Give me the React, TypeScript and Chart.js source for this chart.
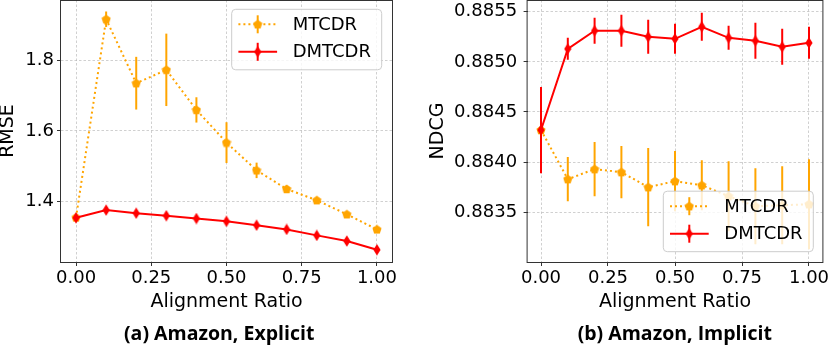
import React, { useEffect, useRef } from "react";
import { Chart, registerables } from "chart.js";

Chart.register(...registerables);

// ---------------- data ----------------
const alignmentRatios = [0, 0.1, 0.2, 0.3, 0.4, 0.5, 0.6, 0.7, 0.8, 0.9, 1.0];
const xTickValues = [0, 0.25, 0.5, 0.75, 1.0];
const seriesNames = ["MTCDR", "DMTCDR"];

const rmseMTCDR = [1.354, 1.918, 1.736, 1.774, 1.66, 1.567, 1.488, 1.435, 1.403, 1.363, 1.32];
const rmseMTCDRErr = [0.005, 0.022, 0.075, 0.103, 0.036, 0.058, 0.022, 0.006, 0.006, 0.005, 0.005];
const rmseDMTCDR = [1.353, 1.375, 1.366, 1.359, 1.351, 1.343, 1.332, 1.32, 1.303, 1.287, 1.262];
const rmseDMTCDRErr = [0.008, 0.008, 0.007, 0.007, 0.007, 0.007, 0.007, 0.007, 0.007, 0.007, 0.008];
const rmseTicks = [1.4, 1.6, 1.8];

const ndcgMTCDR = [0.88432, 0.88383, 0.88393, 0.8839, 0.88375, 0.88381, 0.88377, 0.88366, 0.88356, 0.88357, 0.88358];
const ndcgMTCDRErr = [0.0001, 0.00022, 0.00027, 0.00026, 0.00039, 0.0003, 0.00025, 0.00035, 0.00038, 0.00039, 0.00045];
const ndcgDMTCDR = [0.88432, 0.88513, 0.88531, 0.88531, 0.88525, 0.88523, 0.88535, 0.88524, 0.88521, 0.88515, 0.88519];
const ndcgDMTCDRErr = [0.00043, 0.00011, 0.00013, 0.00016, 0.00017, 0.00015, 0.00014, 0.00012, 0.00018, 0.00018, 0.00016];
const ndcgTicks = [0.8835, 0.884, 0.8845, 0.885, 0.8855];

const xAxisTitle = "Alignment Ratio";
const captions = ["(a) Amazon, Explicit", "(b) Amazon, Implicit"];

// ---------------- styling ----------------
const ORANGE = "#FFA500";
const RED = "#FF0000";
const FONT = "'DejaVu Sans', sans-serif";
const GRID = "rgba(176,176,176,0.75)";

function makePentagon(color: string) {
  const c = document.createElement("canvas");
  c.width = 10;
  c.height = 10;
  const ctx = c.getContext("2d")!;
  ctx.fillStyle = color;
  ctx.beginPath();
  for (let k = 0; k < 5; k++) {
    const a = -Math.PI / 2 + (k * 2 * Math.PI) / 5;
    const px = 5 + 4.8 * Math.cos(a);
    const py = 5.3 + 4.8 * Math.sin(a);
    if (k === 0) ctx.moveTo(px, py);
    else ctx.lineTo(px, py);
  }
  ctx.closePath();
  ctx.fill();
  return c;
}

function makeDiamond(color: string) {
  const c = document.createElement("canvas");
  c.width = 8;
  c.height = 12;
  const ctx = c.getContext("2d")!;
  ctx.fillStyle = color;
  ctx.beginPath();
  ctx.moveTo(4, 0.3);
  ctx.lineTo(7.6, 6);
  ctx.lineTo(4, 11.7);
  ctx.lineTo(0.4, 6);
  ctx.closePath();
  ctx.fill();
  return c;
}

type Panel = {
  mt: number[];
  mtErr: number[];
  dm: number[];
  dmErr: number[];
  yTicks: number[];
  yMin: number;
  yMax: number;
  yDecimals: number;
  yTitle: string;
  yTitlePad: number;
  yTickPad: number;
  yWidth: number;
  padRight: number;
  legendCorner: "top" | "bottom";
  legendRightGap: number;
  legendEdgeGap: number;
};

const errorBarPlugin = {
  id: "errorBars",
  beforeDatasetDraw(chart: any, args: any) {
    const ds = chart.data.datasets[args.index];
    const errs: number[] = ds.errors || [];
    const ctx = chart.ctx;
    const ys = chart.scales.y;
    const ca = chart.chartArea;
    ctx.save();
    ctx.beginPath();
    ctx.rect(ca.left, ca.top, ca.right - ca.left, ca.bottom - ca.top);
    ctx.clip();
    ctx.strokeStyle = ds.borderColor;
    ctx.lineWidth = 2;
    ctx.setLineDash([]);
    args.meta.data.forEach((pt: any, i: number) => {
      const v = ds.data[i].y;
      const e = errs[i] || 0;
      ctx.beginPath();
      ctx.moveTo(pt.x, ys.getPixelForValue(v + e));
      ctx.lineTo(pt.x, ys.getPixelForValue(v - e));
      ctx.stroke();
    });
    ctx.restore();
  },
};

function makeFramePlugin(panel: Panel, markers: HTMLCanvasElement[]) {
  return {
    id: "frameLegend",
    afterDatasetsDraw(chart: any) {
      const ctx = chart.ctx;
      const ca = chart.chartArea;
      ctx.save();
      ctx.strokeStyle = "#333";
      ctx.lineWidth = 1;
      ctx.setLineDash([]);
      ctx.strokeRect(ca.left - 0.5, ca.top + 0.5, ca.right - ca.left + 1, ca.bottom - ca.top);
      ctx.restore();
    },
    afterDraw(chart: any) {
      const ctx = chart.ctx;
      const ca = chart.chartArea;
      const w = 150;
      const h = 60.5;
      const x = ca.right - panel.legendRightGap - w;
      const y = panel.legendCorner === "top" ? ca.top + panel.legendEdgeGap : ca.bottom - panel.legendEdgeGap - h;
      ctx.save();
      const r = 4;
      ctx.beginPath();
      ctx.moveTo(x + r, y);
      ctx.lineTo(x + w - r, y);
      ctx.quadraticCurveTo(x + w, y, x + w, y + r);
      ctx.lineTo(x + w, y + h - r);
      ctx.quadraticCurveTo(x + w, y + h, x + w - r, y + h);
      ctx.lineTo(x + r, y + h);
      ctx.quadraticCurveTo(x, y + h, x, y + h - r);
      ctx.lineTo(x, y + r);
      ctx.quadraticCurveTo(x, y, x + r, y);
      ctx.closePath();
      ctx.fillStyle = "rgba(255,255,255,0.8)";
      ctx.fill();
      ctx.strokeStyle = "#cccccc";
      ctx.lineWidth = 1;
      ctx.stroke();

      const rows = [y + 15, y + 42.5];
      const colors = [ORANGE, RED];
      const dashes = [[2, 3], []];
      rows.forEach((ry, i) => {
        ctx.strokeStyle = colors[i];
        ctx.lineWidth = 2;
        ctx.setLineDash(dashes[i]);
        ctx.beginPath();
        ctx.moveTo(x + 6.7, ry);
        ctx.lineTo(x + 45.4, ry);
        ctx.stroke();
        ctx.setLineDash([]);
        ctx.beginPath();
        ctx.moveTo(x + 26, ry - 9);
        ctx.lineTo(x + 26, ry + 9);
        ctx.stroke();
        const m = markers[i];
        ctx.drawImage(m, x + 26 - m.width / 2, ry - m.height / 2);
        ctx.fillStyle = "#000";
        ctx.font = `18px ${FONT}`;
        ctx.textBaseline = "middle";
        ctx.textAlign = "left";
        ctx.fillText(seriesNames[i], x + 61, ry + 1);
      });
      ctx.restore();
    },
  };
}

function buildConfig(panel: Panel) {
  const pent = makePentagon(ORANGE);
  const diam = makeDiamond(RED);
  return {
    type: "line",
    data: {
      datasets: [
        {
          label: seriesNames[0],
          data: alignmentRatios.map((x, i) => ({ x, y: panel.mt[i] })),
          errors: panel.mtErr,
          borderColor: ORANGE,
          backgroundColor: ORANGE,
          borderWidth: 2,
          borderDash: [2, 3],
          pointStyle: pent,
          pointRadius: 5,
          fill: false,
          tension: 0,
          order: 1,
        },
        {
          label: seriesNames[1],
          data: alignmentRatios.map((x, i) => ({ x, y: panel.dm[i] })),
          errors: panel.dmErr,
          borderColor: RED,
          backgroundColor: RED,
          borderWidth: 2,
          pointStyle: diam,
          pointRadius: 5,
          fill: false,
          tension: 0,
          order: 0,
        },
      ],
    },
    options: {
      responsive: false,
      animation: false,
      devicePixelRatio: 1,
      layout: { autoPadding: false, padding: { left: 0, right: panel.padRight, top: 0, bottom: 41 } },
      plugins: {
        legend: { display: false },
        tooltip: { enabled: false },
        title: { display: false },
      },
      scales: {
        x: {
          type: "linear",
          min: -0.05,
          max: 1.05,
          afterBuildTicks: (ax: any) => {
            ax.ticks = xTickValues.map((v) => ({ value: v }));
          },
          afterFit: (ax: any) => {
            ax.height = 51;
            ax.paddingLeft = 0;
            ax.paddingRight = 0;
            ax.paddingTop = 0;
            ax.paddingBottom = 0;
          },
          ticks: {
            callback: (v: any) => Number(v).toFixed(2),
            font: { family: FONT, size: 18 },
            color: "#000",
            padding: 1.5,
            maxRotation: 0,
            autoSkip: false,
          },
          grid: {
            color: GRID,
            lineWidth: 0.8,
            tickLength: 4,
            tickColor: "#333",
            tickWidth: 1,
            tickBorderDash: [],
          },
          border: { display: false, dash: [2.5, 2] },
          title: {
            display: true,
            text: xAxisTitle,
            font: { family: FONT, size: 19 },
            color: "#000",
            padding: { top: 0, bottom: 0 },
          },
        },
        y: {
          type: "linear",
          min: panel.yMin,
          max: panel.yMax,
          afterBuildTicks: (ax: any) => {
            ax.ticks = panel.yTicks.map((v) => ({ value: v }));
          },
          afterFit: (ax: any) => {
            ax.width = panel.yWidth;
            ax.paddingLeft = 0;
            ax.paddingRight = 0;
            ax.paddingTop = 0;
            ax.paddingBottom = 0;
          },
          ticks: {
            callback: (v: any) => Number(v).toFixed(panel.yDecimals),
            font: { family: FONT, size: 18 },
            color: "#000",
            padding: panel.yTickPad,
            autoSkip: false,
          },
          grid: {
            color: GRID,
            lineWidth: 0.8,
            tickLength: 4,
            tickColor: "#333",
            tickWidth: 1,
            tickBorderDash: [],
          },
          border: { display: false, dash: [2.5, 2] },
          title: {
            display: true,
            text: panel.yTitle,
            font: { family: FONT, size: 19 },
            color: "#000",
            padding: { top: panel.yTitlePad, bottom: 0 },
          },
        },
      },
    },
    plugins: [errorBarPlugin, makeFramePlugin(panel, [pent, diam])],
  };
}

const panels: Panel[] = [
  {
    mt: rmseMTCDR,
    mtErr: rmseMTCDRErr,
    dm: rmseDMTCDR,
    dmErr: rmseDMTCDRErr,
    yTicks: rmseTicks,
    yMin: 1.2273,
    yMax: 1.9727,
    yDecimals: 1,
    yTitle: "RMSE",
    yTitlePad: -3,
    yTickPad: 3,
    yWidth: 61,
    padRight: 23,
    legendCorner: "top",
    legendRightGap: 10.3,
    legendEdgeGap: 9.3,
  },
  {
    mt: ndcgMTCDR,
    mtErr: ndcgMTCDRErr,
    dm: ndcgDMTCDR,
    dmErr: ndcgDMTCDRErr,
    yTicks: ndcgTicks,
    yMin: 0.883004,
    yMax: 0.885617,
    yDecimals: 4,
    yTitle: "NDCG",
    yTitlePad: 12,
    yTickPad: 6.5,
    yWidth: 112.6,
    padRight: 7.6,
    legendCorner: "bottom",
    legendRightGap: 9.1,
    legendEdgeGap: 10.3,
  },
];

function PanelChart({ panel, left, caption, captionX }: { panel: Panel; left: number; caption: string; captionX: number }) {
  const ref = useRef<HTMLCanvasElement>(null);
  useEffect(() => {
    if (!ref.current) return;
    const chart = new Chart(ref.current, buildConfig(panel) as any);
    return () => chart.destroy();
  }, [panel]);
  return (
    <div style={{ position: "absolute", left, top: 0, width: 415, height: 354 }}>
      <canvas ref={ref} width={415} height={354} style={{ position: "absolute", left: 0, top: 0, width: 415, height: 354 }} />
      <div
        style={{
          position: "absolute",
          left: captionX,
          top: 322,
          transform: "translateX(-50%)",
          whiteSpace: "nowrap",
          fontFamily: "'Open Sans', sans-serif",
          fontWeight: 700,
          fontSize: 19.5,
          lineHeight: "22px",
          color: "#000",
        }}
      >
        {caption}
      </div>
    </div>
  );
}

export default function App() {
  return (
    <div style={{ position: "fixed", left: 0, top: 0, width: 830, height: 354, background: "#fff", overflow: "hidden" }}>
      <PanelChart panel={panels[0]} left={0} caption={captions[0]} captionX={219.2} />
      <PanelChart panel={panels[1]} left={415} caption={captions[1]} captionX={259.8} />
    </div>
  );
}
